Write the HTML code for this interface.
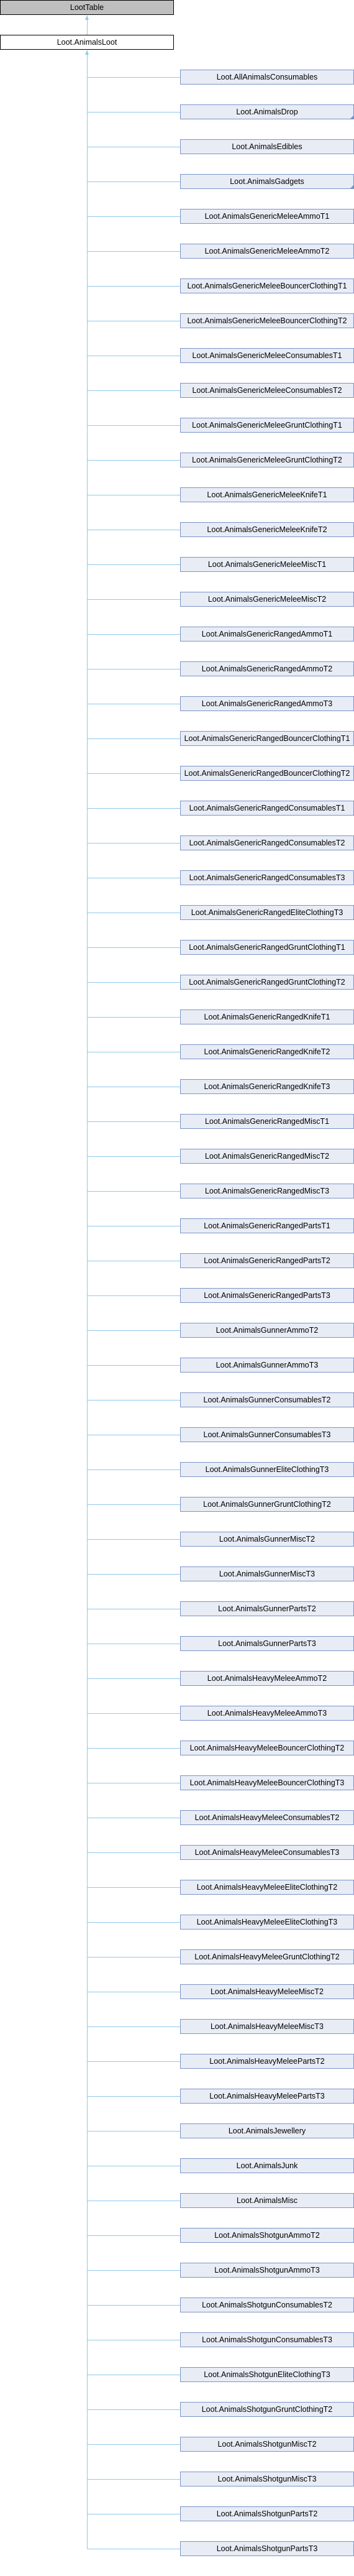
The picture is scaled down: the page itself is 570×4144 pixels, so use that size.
<!DOCTYPE html>
<html><head><style>
body{margin:0;width:570px;height:4112px;position:relative;background:#fff;font-family:"Liberation Sans",Arial,sans-serif;overflow:hidden}
.b{position:absolute;box-sizing:border-box;height:24px;line-height:22px;text-align:center;font-size:12.5px;color:#000;white-space:nowrap}
#lt{left:0;top:0;width:280px;background:#bfbfbf;border:1px solid #000}
#al{left:0;top:56px;width:280px;background:#fff;border:1px solid #000}
#kids{position:absolute;left:290px;top:112px;width:280px}
#kids div{box-sizing:border-box;height:24px;line-height:22px;margin-bottom:32px;text-align:center;font-size:12.5px;background:#e8ecf5;border:1px solid #7b93c9;position:relative;white-space:nowrap}
#kids div::before{content:"";position:absolute;left:-151px;top:11px;width:150px;height:1px;background:#8fc9ea}
#kids div.f::after{content:"";position:absolute;right:0;bottom:0;border-style:solid;border-width:0 0 5px 5px;border-color:transparent transparent #7b93c9 transparent}
.v{position:absolute;left:140px;width:1px;background:#8fc9ea}
.ar{position:absolute;left:137px;width:0;height:0;border-left:3.5px solid transparent;border-right:3.5px solid transparent;border-bottom:7px solid #8fc9ea}
</style></head><body>
<div class="b" id="lt">LootTable</div>
<div class="b" id="al">Loot.AnimalsLoot</div>
<div class="v" style="top:25px;height:31px"></div>
<div class="ar" style="top:25px"></div>
<div class="v" style="top:81px;height:4020px"></div>
<div class="ar" style="top:81px"></div>
<div id="kids">
<div>Loot.AllAnimalsConsumables</div>
<div class="f">Loot.AnimalsDrop</div>
<div>Loot.AnimalsEdibles</div>
<div class="f">Loot.AnimalsGadgets</div>
<div>Loot.AnimalsGenericMeleeAmmoT1</div>
<div>Loot.AnimalsGenericMeleeAmmoT2</div>
<div>Loot.AnimalsGenericMeleeBouncerClothingT1</div>
<div>Loot.AnimalsGenericMeleeBouncerClothingT2</div>
<div>Loot.AnimalsGenericMeleeConsumablesT1</div>
<div>Loot.AnimalsGenericMeleeConsumablesT2</div>
<div>Loot.AnimalsGenericMeleeGruntClothingT1</div>
<div>Loot.AnimalsGenericMeleeGruntClothingT2</div>
<div>Loot.AnimalsGenericMeleeKnifeT1</div>
<div>Loot.AnimalsGenericMeleeKnifeT2</div>
<div>Loot.AnimalsGenericMeleeMiscT1</div>
<div>Loot.AnimalsGenericMeleeMiscT2</div>
<div>Loot.AnimalsGenericRangedAmmoT1</div>
<div>Loot.AnimalsGenericRangedAmmoT2</div>
<div>Loot.AnimalsGenericRangedAmmoT3</div>
<div>Loot.AnimalsGenericRangedBouncerClothingT1</div>
<div>Loot.AnimalsGenericRangedBouncerClothingT2</div>
<div>Loot.AnimalsGenericRangedConsumablesT1</div>
<div>Loot.AnimalsGenericRangedConsumablesT2</div>
<div>Loot.AnimalsGenericRangedConsumablesT3</div>
<div>Loot.AnimalsGenericRangedEliteClothingT3</div>
<div>Loot.AnimalsGenericRangedGruntClothingT1</div>
<div>Loot.AnimalsGenericRangedGruntClothingT2</div>
<div>Loot.AnimalsGenericRangedKnifeT1</div>
<div>Loot.AnimalsGenericRangedKnifeT2</div>
<div>Loot.AnimalsGenericRangedKnifeT3</div>
<div>Loot.AnimalsGenericRangedMiscT1</div>
<div>Loot.AnimalsGenericRangedMiscT2</div>
<div>Loot.AnimalsGenericRangedMiscT3</div>
<div>Loot.AnimalsGenericRangedPartsT1</div>
<div>Loot.AnimalsGenericRangedPartsT2</div>
<div>Loot.AnimalsGenericRangedPartsT3</div>
<div>Loot.AnimalsGunnerAmmoT2</div>
<div>Loot.AnimalsGunnerAmmoT3</div>
<div>Loot.AnimalsGunnerConsumablesT2</div>
<div>Loot.AnimalsGunnerConsumablesT3</div>
<div>Loot.AnimalsGunnerEliteClothingT3</div>
<div>Loot.AnimalsGunnerGruntClothingT2</div>
<div>Loot.AnimalsGunnerMiscT2</div>
<div>Loot.AnimalsGunnerMiscT3</div>
<div>Loot.AnimalsGunnerPartsT2</div>
<div>Loot.AnimalsGunnerPartsT3</div>
<div>Loot.AnimalsHeavyMeleeAmmoT2</div>
<div>Loot.AnimalsHeavyMeleeAmmoT3</div>
<div>Loot.AnimalsHeavyMeleeBouncerClothingT2</div>
<div>Loot.AnimalsHeavyMeleeBouncerClothingT3</div>
<div>Loot.AnimalsHeavyMeleeConsumablesT2</div>
<div>Loot.AnimalsHeavyMeleeConsumablesT3</div>
<div>Loot.AnimalsHeavyMeleeEliteClothingT2</div>
<div>Loot.AnimalsHeavyMeleeEliteClothingT3</div>
<div>Loot.AnimalsHeavyMeleeGruntClothingT2</div>
<div>Loot.AnimalsHeavyMeleeMiscT2</div>
<div>Loot.AnimalsHeavyMeleeMiscT3</div>
<div>Loot.AnimalsHeavyMeleePartsT2</div>
<div>Loot.AnimalsHeavyMeleePartsT3</div>
<div>Loot.AnimalsJewellery</div>
<div>Loot.AnimalsJunk</div>
<div>Loot.AnimalsMisc</div>
<div>Loot.AnimalsShotgunAmmoT2</div>
<div>Loot.AnimalsShotgunAmmoT3</div>
<div>Loot.AnimalsShotgunConsumablesT2</div>
<div>Loot.AnimalsShotgunConsumablesT3</div>
<div>Loot.AnimalsShotgunEliteClothingT3</div>
<div>Loot.AnimalsShotgunGruntClothingT2</div>
<div>Loot.AnimalsShotgunMiscT2</div>
<div>Loot.AnimalsShotgunMiscT3</div>
<div>Loot.AnimalsShotgunPartsT2</div>
<div>Loot.AnimalsShotgunPartsT3</div>
</div>
</body></html>
